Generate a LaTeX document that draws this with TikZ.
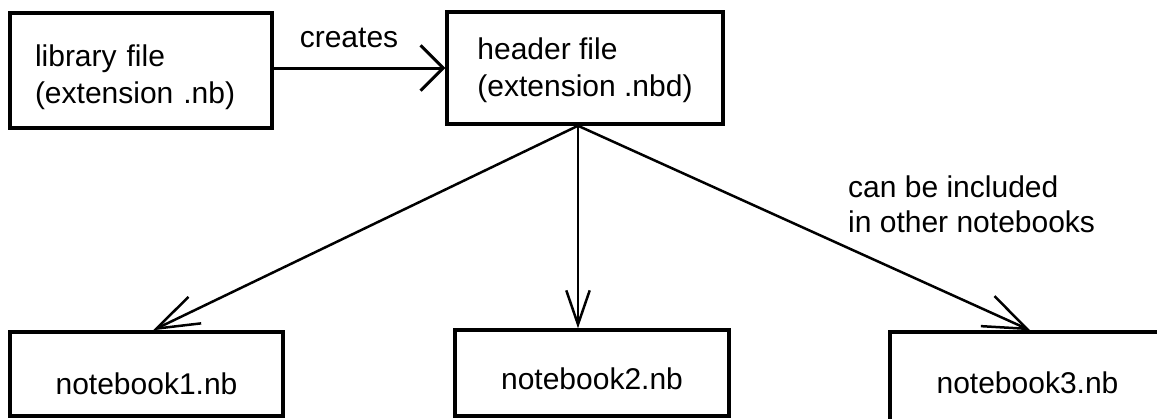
\documentclass[tikz,border=0pt]{standalone}
\usepackage{fontspec}
\setmainfont{Liberation Sans}
\usetikzlibrary{arrows.meta}
\begin{document}
\begin{tikzpicture}[x=1pt,y=-1pt,
  txt/.style={font=\fontsize{30}{35}\selectfont},
  box/.style={draw, line width=3.5pt, inner sep=0pt, txt},
  twoline/.style={box, font=\fontsize{30}{37}\selectfont, align=left},
  conn/.style={line width=2.5pt, line cap=round},
]
\useasboundingbox (0,0) rectangle (1157,418);
\clip (0,0) rectangle (1157,418);

\node[twoline, minimum width=262pt, minimum height=115pt, text width=212pt] (lib) at (141,70.5) {\rule{0pt}{36pt}library file\\(extension .nb)};
\node[twoline, minimum width=276pt, minimum height=112pt] (header) at (585,68) {\rule{0pt}{26pt}header file\\(extension .nbd)};
\node[box, minimum width=273pt, minimum height=84pt, text height=40pt, text depth=0pt] (nb1) at (146.5,374) {notebook1.nb};
\node[box, minimum width=274pt, minimum height=86pt, text height=32pt, text depth=0pt] (nb2) at (592,373) {notebook2.nb};
\node[box, minimum width=275pt, minimum height=93pt, text height=29pt, text depth=0pt] (nb3) at (1027.5,378.5) {notebook3.nb};

\node[txt, inner sep=0pt] (creates) at (349,38) {creates};
\node[txt, inner sep=0pt, align=left, anchor=north west] (incl) at (848,176) {can be included\\in other notebooks};

\coordinate (fork) at ([xshift=-7pt]header.south);

\draw[conn, line width=3pt, -{Straight Barb[angle=90:32pt, line width=3pt]}] (lib.east |- header.west) -- (header.west);
\draw[conn, -{Straight Barb[angle=38:45pt, line width=2.5pt]}] (fork) -- ([xshift=6.5pt]nb1.north);
\draw[conn, -{Straight Barb[angle=38:36pt, line width=2.5pt]}] (fork) -- (fork |- nb2.north);
\draw[conn, -{Straight Barb[angle=42:46pt, line width=2.5pt]}] (fork) -- ([xshift=2.5pt]nb3.north);
\end{tikzpicture}
\end{document}
